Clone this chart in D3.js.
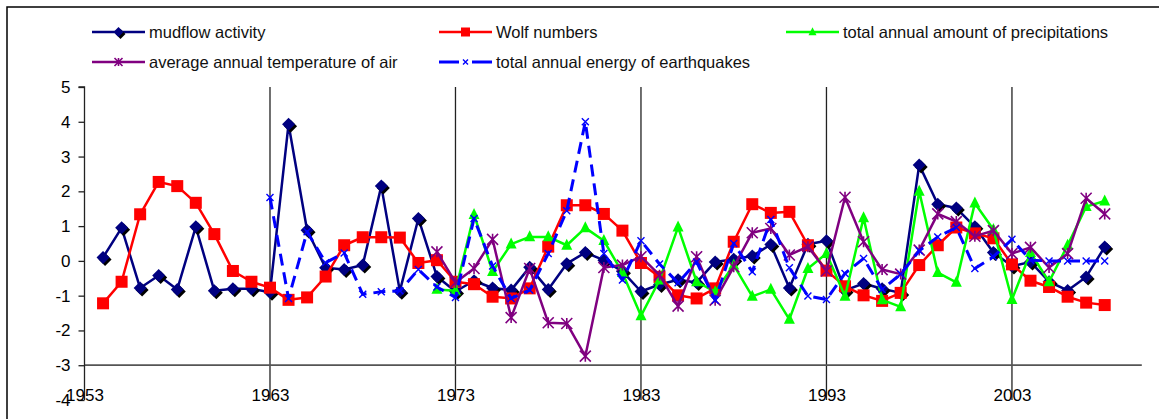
<!DOCTYPE html>
<html>
<head>
<meta charset="utf-8">
<script src="https://cdn.jsdelivr.net/npm/d3@7.9.0/dist/d3.min.js"></script>
<style>
  body { margin: 0; background: #fff; }
  svg { display: block; font-family: "Liberation Sans", Arial, sans-serif; }
</style>
</head>
<body>
<svg id="chart" width="1159" height="419"></svg>
<script>
// ================================
// Data
// ================================
const mudflowStart = 1954;
const mudflow = [0.1, 0.95, -0.78, -0.42, -0.82, 0.98, -0.86, -0.8, -0.8, -0.9,
  3.93, 0.88, -0.2, -0.25, -0.12, 2.15, -0.87, 1.22, -0.45, -0.88,
  -0.57, -0.78, -0.84, -0.18, -0.82, -0.08, 0.24, 0.02, -0.3, -0.88,
  -0.68, -0.54, -0.62, -0.03, 0.05, 0.14, 0.47, -0.78, 0.48, 0.58,
  -0.85, -0.65, -0.8, -0.92, 2.76, 1.63, 1.52, 0.98, 0.24, -0.15,
  -0.03, -0.6, -0.85, -0.46, 0.4];

const wolfStart = 1954;
const wolf = [-1.22, -0.6, 1.34, 2.27, 2.15, 1.67, 0.77, -0.29, -0.6, -0.77,
  -1.12, -1.05, -0.45, 0.45, 0.68, 0.68, 0.67, -0.06, 0.02, -0.6,
  -0.67, -1.03, -1.08, -0.79, 0.41, 1.6, 1.6, 1.35, 0.87, -0.06,
  -0.46, -0.99, -1.08, -0.79, 0.55, 1.63, 1.38, 1.41, 0.45, -0.28,
  -0.73, -0.99, -1.15, -0.92, -0.12, 0.45, 0.96, 0.79, 0.65, -0.1,
  -0.57, -0.75, -1.03, -1.2, -1.27];

const precipStart = 1972;
const precip = [-0.82, -0.86, 1.33, -0.31, 0.48, 0.69, 0.69, 0.45, 0.95, 0.58,
  -0.34, -1.58, -0.55, 0.97, -0.6, -0.89, -0.12, -1.02, -0.82, -1.68,
  -0.22, 0.21, -1.02, 1.24, -1.12, -1.32, 2.0, -0.34, -0.62, 1.66,
  0.9, -1.11, 0.24, -0.6, 0.45, 1.56, 1.72];

const tempStart = 1972;
const temp = [0.26, -0.62, -0.22, 0.62, -1.63, -0.22, -1.78, -1.8, -2.74, -0.19,
  -0.12, 0.12, -0.41, -1.3, 0.12, -1.13, -0.17, 0.81, 0.93, 0.17,
  0.41, -0.29, 1.83, 0.55, -0.25, -0.38, 0.31, 1.35, 1.13, 0.71,
  0.87, 0.21, 0.39, -0.19, 0.21, 1.8, 1.35];

const quakeStart = 1963;
const quake = [1.82, -1.08, 0.84, -0.05, 0.23, -0.96, -0.89, -0.86, -0.25, -0.75,
  -1.05, 1.22, -0.15, -1.08, -0.84, 0.21, 1.44, 4.0, 0.21, -0.55,
  0.58, -0.09, -0.63, -0.03, -1.13, 0.5, -0.31, 1.19, -0.2, -1.01,
  -1.11, -0.36, 0.07, -0.82, -0.38, 0.29, 0.69, 0.96, -0.22, 0.12,
  0.62, 0.02, 0.0, 0.0, 0.0, 0.0];

const seriesNames = [
  "mudflow activity",
  "Wolf numbers",
  "total annual amount of precipitations",
  "average annual temperature of air",
  "total annual energy of earthquakes",
];

const xTicks = [1953, 1963, 1973, 1983, 1993, 2003];
const yTicks = [-4, -3, -2, -1, 0, 1, 2, 3, 4, 5];

// ================================
// Setup
// ================================
const svg = d3.select("#chart");
const x = d3.scaleLinear().domain([1953, 2010]).range([84.5, 1141.8]);
const y = d3.scaleLinear().domain([-4, 5]).range([400, 87]);

const toPoints = (start, vals) => vals.map((v, i) => ({ year: start + i, value: v }));

// outer frame (cut by the window on the right and bottom)
svg.append("rect")
  .attr("x", 7).attr("y", 7).attr("width", 1170).attr("height", 430)
  .attr("fill", "none").attr("stroke", "#000").attr("stroke-width", 1.5);

// vertical grid lines at the year ticks
svg.append("g")
  .selectAll("line")
  .data(xTicks.slice(1))
  .join("line")
  .attr("x1", (d) => x(d)).attr("x2", (d) => x(d))
  .attr("y1", y(5)).attr("y2", y(-4))
  .attr("stroke", "#222").attr("stroke-width", 1.3);

// horizontal line at -3
svg.append("line")
  .attr("x1", x(1953)).attr("x2", x(2010))
  .attr("y1", y(-3)).attr("y2", y(-3))
  .attr("stroke", "#555").attr("stroke-width", 1.8);

// y axis (plain hyphen for negatives, like the original)
const yAxis = svg.append("g")
  .attr("transform", `translate(${x(1953)},0)`)
  .call(d3.axisLeft(y).tickValues(yTicks).tickSize(6).tickPadding(8).tickFormat((d) => String(d)));
yAxis.select(".domain").attr("stroke", "#222").attr("stroke-width", 1.3).attr("d", `M-6,${y(5)}H0V${y(-4)}`);
yAxis.selectAll(".tick line").attr("stroke", "#222").attr("stroke-width", 1.3);
yAxis.selectAll("text").attr("font-size", 17).attr("fill", "#000").attr("font-family", "Liberation Sans, Arial, sans-serif");

// x axis labels
const xAxis = svg.append("g")
  .attr("transform", `translate(0,${y(-3)})`)
  .call(d3.axisBottom(x).tickValues(xTicks).tickSize(0).tickPadding(24).tickFormat((d) => String(d)));
xAxis.select(".domain").remove();
xAxis.selectAll("text").attr("font-size", 17).attr("fill", "#000").attr("font-family", "Liberation Sans, Arial, sans-serif");

// ================================
// Markers
// ================================
function drawMarker(g, kind, s) {
  if (kind === "diamond") {
    const p = d3.symbol(d3.symbolSquare, s * s / 2)();
    g.append("path").attr("d", p).attr("transform", "translate(2,2) rotate(45)").attr("fill", "#000");
    g.append("path").attr("d", p).attr("transform", "rotate(45)").attr("fill", "#000080");
  } else if (kind === "square") {
    g.append("rect").attr("x", -s / 2).attr("y", -s / 2).attr("width", s).attr("height", s).attr("fill", "#ff0000");
  } else if (kind === "triangle") {
    g.append("path").attr("d", `M0,${-s * 0.6}L${s / 2},${s * 0.4}L${-s / 2},${s * 0.4}Z`).attr("fill", "#00ff00");
  } else if (kind === "star") {
    const h = s / 2;
    g.append("path")
      .attr("d", `M${-h},${-h}L${h},${h}M${-h},${h}L${h},${-h}M0,${-h}V${h}`)
      .attr("stroke", "#800080").attr("stroke-width", 1.6).attr("fill", "none");
  } else if (kind === "x") {
    const h = s / 2;
    g.append("path")
      .attr("d", `M${-h},${-h}L${h},${h}M${-h},${h}L${h},${-h}`)
      .attr("stroke", "#0000ff").attr("stroke-width", 1.4).attr("fill", "none");
  }
}

const series = [
  { name: seriesNames[0], data: toPoints(mudflowStart, mudflow), color: "#000080", marker: "diamond", size: 13, legendSize: 10 },
  { name: seriesNames[1], data: toPoints(wolfStart, wolf), color: "#ff0000", marker: "square", size: 12, legendSize: 9 },
  { name: seriesNames[2], data: toPoints(precipStart, precip), color: "#00ff00", marker: "triangle", size: 11, legendSize: 8 },
  { name: seriesNames[3], data: toPoints(tempStart, temp), color: "#800080", marker: "star", size: 11, legendSize: 8 },
  { name: seriesNames[4], data: toPoints(quakeStart, quake), color: "#0000ff", marker: "x", size: 7, legendSize: 5, dash: "12,7" },
];

const line = d3.line().x((d) => x(d.year)).y((d) => y(d.value));

series.forEach((s) => {
  const g = svg.append("g");
  g.append("path")
    .datum(s.data)
    .attr("d", line)
    .attr("fill", "none")
    .attr("stroke", s.color)
    .attr("stroke-width", s.dash ? 3 : 2.5)
    .attr("stroke-dasharray", s.dash || null)
    .attr("stroke-linejoin", "round");
  g.selectAll("g.m")
    .data(s.data)
    .join("g")
    .attr("class", "m")
    .attr("transform", (d) => `translate(${x(d.year)},${y(d.value)})`)
    .each(function () { drawMarker(d3.select(this), s.marker, s.size); });
});

// ================================
// Legend
// ================================
const legendPos = [
  [92, 32], [439, 32], [786, 32],
  [92, 62], [439, 62],
];
series.forEach((s, i) => {
  const [lx, ly] = legendPos[i];
  const g = svg.append("g").attr("transform", `translate(${lx},${ly})`);
  if (s.dash) {
    g.append("line").attr("x1", 0).attr("x2", 20).attr("y1", 0).attr("y2", 0).attr("stroke", s.color).attr("stroke-width", 3);
    g.append("line").attr("x1", 33).attr("x2", 53).attr("y1", 0).attr("y2", 0).attr("stroke", s.color).attr("stroke-width", 3);
  } else {
    g.append("line").attr("x1", 0).attr("x2", 53).attr("y1", 0).attr("y2", 0).attr("stroke", s.color).attr("stroke-width", 2.5);
  }
  const mg = g.append("g").attr("transform", "translate(26.5,0)");
  drawMarker(mg, s.marker, s.legendSize);
  g.append("text")
    .attr("x", 57).attr("y", 0).attr("dy", "0.35em")
    .attr("font-size", 16.5).attr("fill", "#111")
    .text(s.name);
});
</script>
</body>
</html>
